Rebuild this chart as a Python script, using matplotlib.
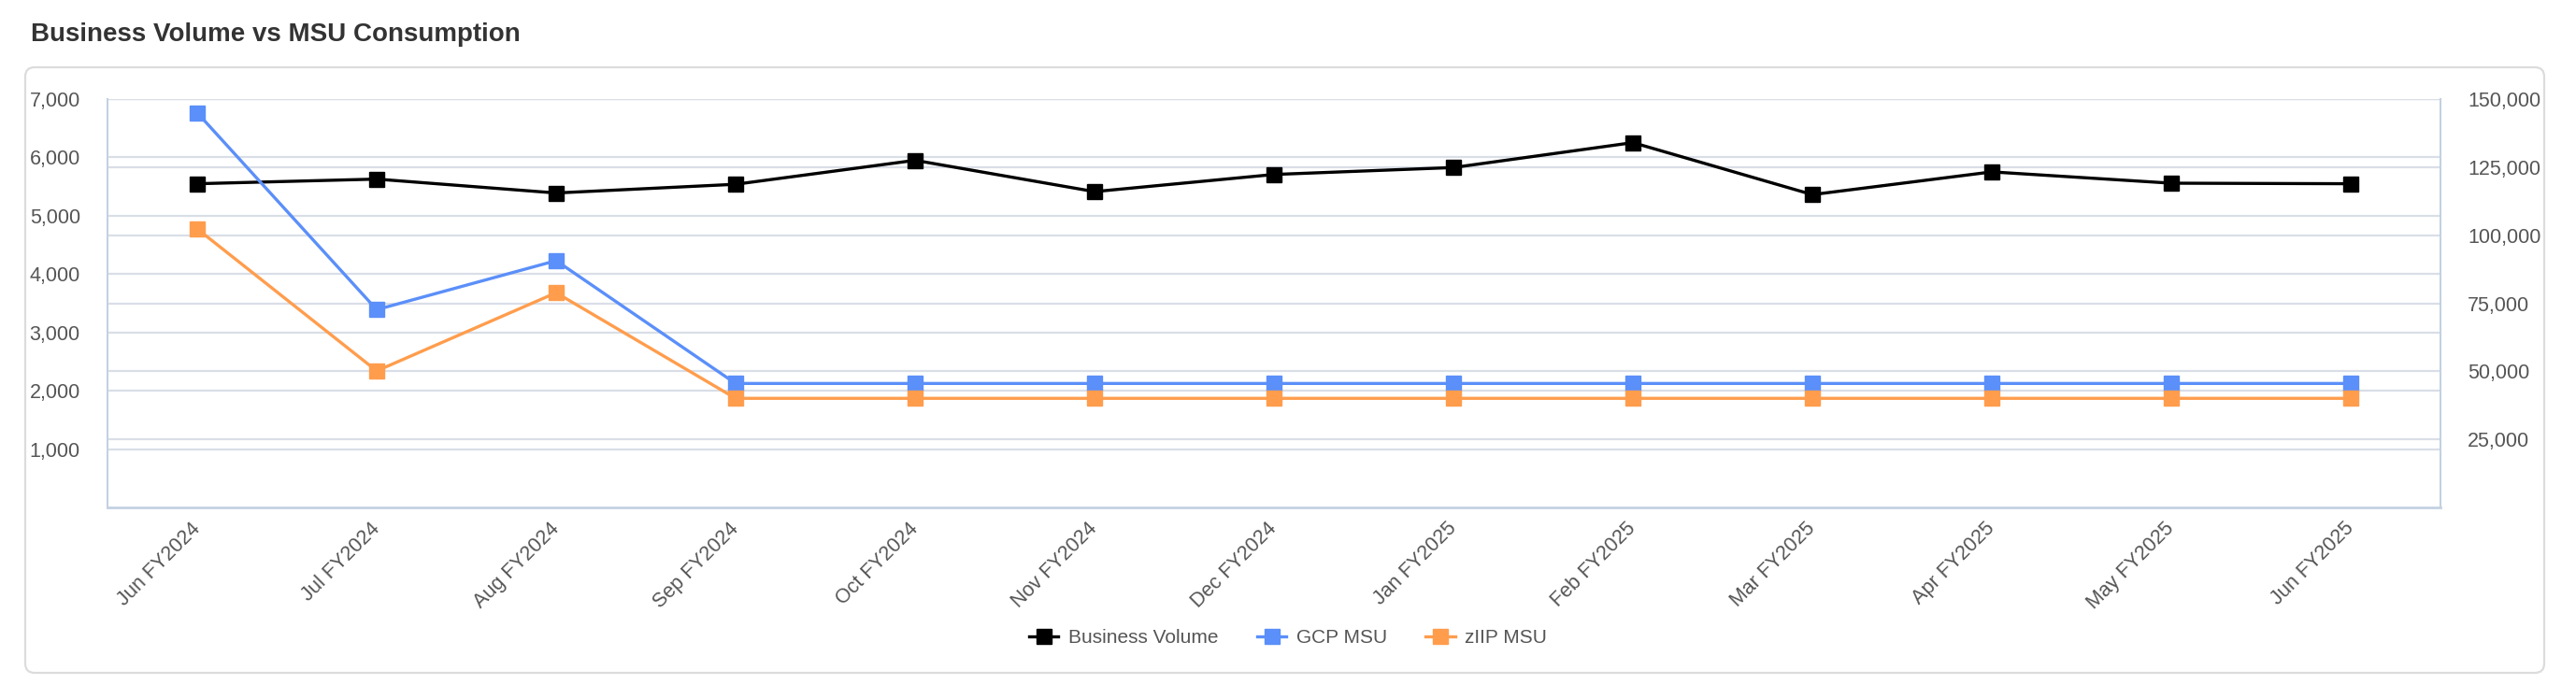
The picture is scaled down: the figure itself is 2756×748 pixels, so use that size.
import numpy as np
import matplotlib
matplotlib.use("Agg")
import matplotlib.pyplot as plt
from matplotlib.patches import FancyBboxPatch
from matplotlib.ticker import FuncFormatter

plt.rcParams['font.family'] = ['Liberation Sans', 'DejaVu Sans']

# data
months = ['Jun FY2024', 'Jul FY2024', 'Aug FY2024', 'Sep FY2024', 'Oct FY2024',
          'Nov FY2024', 'Dec FY2024', 'Jan FY2025', 'Feb FY2025', 'Mar FY2025',
          'Apr FY2025', 'May FY2025', 'Jun FY2025']
business_volume = [118900, 120600, 115500, 118700, 127500, 116000, 122300,
                   124850, 134000, 114900, 123250, 119100, 118900]
gcp_msu = [6765, 3390, 4230, 2125, 2125, 2125, 2125, 2125, 2125, 2125, 2125, 2125, 2125]
ziip_msu = [4775, 2340, 3680, 1870, 1870, 1870, 1870, 1870, 1870, 1870, 1870, 1870, 1870]

left_max, right_max = 7000, 150000
left_ticks = [1000, 2000, 3000, 4000, 5000, 6000, 7000]
right_ticks = [25000, 50000, 75000, 100000, 125000, 150000]

W, H = 2756, 748
fig = plt.figure(figsize=(W / 100, H / 100), dpi=100)

# card background with rounded border
bg = fig.add_axes([0, 0, 1, 1], zorder=0)
bg.set_xlim(0, W)
bg.set_ylim(0, H)
bg.axis('off')
card = FancyBboxPatch((27, 28), 2722 - 27, 676 - 28,
                      boxstyle='round,pad=0,rounding_size=10',
                      facecolor='white', edgecolor='#dcdcdc', linewidth=1.6)
bg.add_patch(card)

fig.text(33 / W, 1 - 37 / H, 'Business Volume vs MSU Consumption',
         fontsize=20, fontweight='bold', color='#333333', va='center', ha='left')

ax = fig.add_axes([115 / W, 205 / H, (2611 - 115) / W, (642 - 205) / H], zorder=3)
ax2 = ax.twinx()
ax.set_zorder(3)
ax2.set_zorder(2)
ax.patch.set_alpha(0)
ax2.patch.set_alpha(0)

x = np.arange(len(months))
grid_col = '#d9dee7'
axis_col = '#c3d1e2'
lab_col = '#555555'

ax.set_xlim(-0.5, len(months) - 0.5)
ax.set_ylim(0, left_max)
ax2.set_ylim(0, right_max)

ax.set_yticks(left_ticks)
ax2.set_yticks(right_ticks)
fmt = FuncFormatter(lambda v, p: f'{int(v):,}')
ax.yaxis.set_major_formatter(fmt)
ax2.yaxis.set_major_formatter(fmt)

# both grids live in the lowest axes so no line gets covered
for v in right_ticks:
    ax2.axhline(v, color=grid_col, lw=1.6, zorder=0.5)
for v in left_ticks:
    ax2.axhline(v * right_max / left_max, color=grid_col, lw=1.6, zorder=0.5)

for a in (ax, ax2):
    for s in a.spines.values():
        s.set_visible(False)

ax.spines['left'].set_visible(True)
ax.spines['left'].set_color(axis_col)
ax.spines['left'].set_linewidth(1.5)
ax.spines['bottom'].set_visible(True)
ax.spines['bottom'].set_color(axis_col)
ax.spines['bottom'].set_linewidth(2)
ax2.spines['right'].set_visible(True)
ax2.spines['right'].set_color(axis_col)
ax2.spines['right'].set_linewidth(1.5)

ax.tick_params(axis='y', length=0, pad=21, labelsize=15.5, labelcolor=lab_col)
ax2.tick_params(axis='y', length=0, pad=21, labelsize=15.5, labelcolor=lab_col)
ax.set_xticks(x)
ax.set_xticklabels(months, rotation=45, ha='right', va='center',
                   rotation_mode='anchor', fontsize=15.5, color=lab_col)
ax.tick_params(axis='x', length=0, pad=14)

lw, ms = 2.4, 12
l1, = ax2.plot(x, business_volume, color='#000000', lw=lw, marker='s', ms=ms,
               label='Business Volume', zorder=3)
l2, = ax.plot(x, gcp_msu, color='#5b8ff9', lw=lw, marker='s', ms=ms,
              label='GCP MSU', zorder=3)
l3, = ax.plot(x, ziip_msu, color='#ff9d4d', lw=lw, marker='s', ms=ms,
              label='zIIP MSU', zorder=4)

leg = fig.legend([l1, l2, l3], ['Business Volume', 'GCP MSU', 'zIIP MSU'],
                 loc='center', bbox_to_anchor=(0.5, 65 / H), ncol=3, frameon=False,
                 fontsize=15, handlelength=1.5, handletextpad=0.5,
                 columnspacing=2.0, markerscale=0.95)
for t in leg.get_texts():
    t.set_color(lab_col)

fig.savefig('out.png', dpi=100)
